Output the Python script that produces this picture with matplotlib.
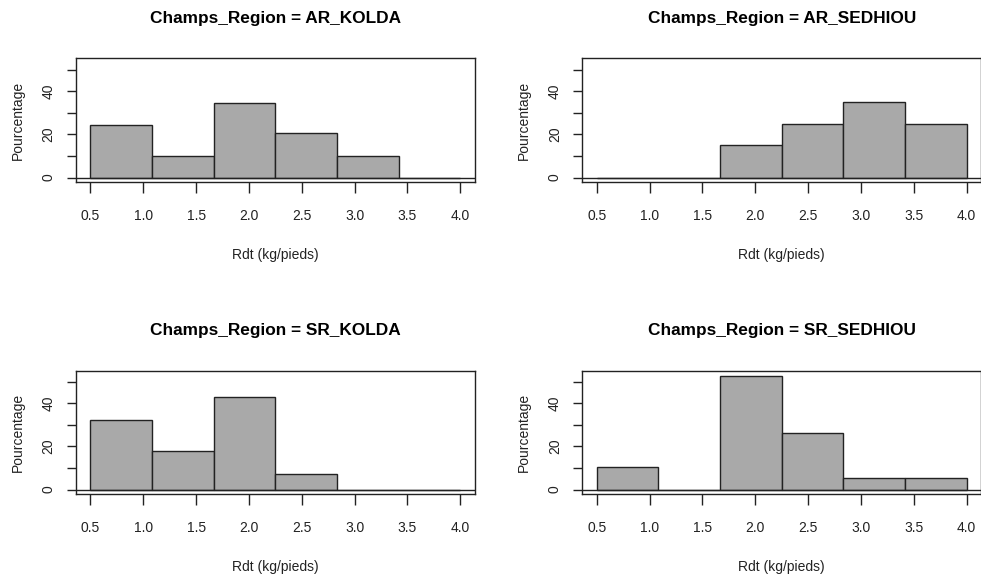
import numpy as np
import matplotlib
matplotlib.use("Agg")
import matplotlib.pyplot as plt

plt.rcParams['font.family'] = ['Liberation Sans', 'DejaVu Sans']

# Histogram data (percentages per bin)
bin_edges = [0.5, 1.0833, 1.6667, 2.25, 2.8333, 3.4167, 4.0]
regions = ["AR_KOLDA", "AR_SEDHIOU", "SR_KOLDA", "SR_SEDHIOU"]
pct_ar_kolda = [24.5, 10.2, 34.7, 20.4, 10.2, 0.0]
pct_ar_sedhiou = [0.0, 0.0, 15.0, 25.0, 35.0, 25.0]
pct_sr_kolda = [32.1, 17.9, 42.9, 7.1, 0.0, 0.0]
pct_sr_sedhiou = [10.5, 0.0, 52.6, 26.3, 5.3, 5.3]
all_pct = [pct_ar_kolda, pct_ar_sedhiou, pct_sr_kolda, pct_sr_sedhiou]

x_ticks = [0.5, 1.0, 1.5, 2.0, 2.5, 3.0, 3.5, 4.0]
x_ticklabels = ["0.5", "1.0", "1.5", "2.0", "2.5", "3.0", "3.5", "4.0"]
y_ticks = [0, 10, 20, 30, 40, 50]
y_ticklabels = ["0", "", "20", "", "40", ""]

W, H = 981, 580
fig = plt.figure(figsize=(W / 100, H / 100), dpi=100)

# axes boxes in pixels: left, top, right, bottom
boxes = [(75.7, 58.3, 475.0, 182.3),
         (582.0, 58.3, 981.5, 182.3),
         (75.7, 370.7, 475.0, 494.3),
         (582.0, 370.7, 981.5, 494.3)]

lc = '#222222'
edges = np.array(bin_edges)
for reg, pct, (l, t, r, b) in zip(regions, all_pct, boxes):
    ax = fig.add_axes([l / W, 1 - b / H, (r - l) / W, (b - t) / H])
    ax.bar(edges[:-1], pct, width=np.diff(edges), align='edge',
           color='#a9a9a9', edgecolor=lc, linewidth=1.0, zorder=2)
    ax.axhline(0, color=lc, linewidth=1.0, zorder=3)
    ax.set_xlim(0.36, 4.14)
    ax.set_ylim(-2.2, 55.2)
    for sp in ax.spines.values():
        sp.set_color(lc)
        sp.set_linewidth(1.0)

    ax.set_xticks(x_ticks)
    ax.set_xticklabels(x_ticklabels, fontsize=10, color=lc)
    ax.tick_params(axis='x', length=8, width=1.0, color=lc, pad=11)
    ax.set_yticks(y_ticks)
    ax.set_yticklabels(y_ticklabels, fontsize=10, color=lc,
                       rotation=90, va='center')
    ax.tick_params(axis='y', length=6.5, width=1.0, color=lc, pad=8)

    hpx = b - t
    wpx = r - l
    ax.text(0.5, 1 + 40.3 / hpx, "Champs_Region = " + reg,
            transform=ax.transAxes, ha='center', va='center',
            fontsize=12.4, fontweight='bold', color='black')
    ax.set_xlabel("Rdt (kg/pieds)", fontsize=10, color=lc)
    ax.xaxis.set_label_coords(0.5, -72.7 / hpx)
    ax.xaxis.label.set_va('center')
    ax.set_ylabel("Pourcentage", fontsize=10, color=lc)
    ax.yaxis.set_label_coords(-58.2 / wpx, 0.5)
    ax.yaxis.label.set_va('center')

fig.savefig("out.png", dpi=100)
